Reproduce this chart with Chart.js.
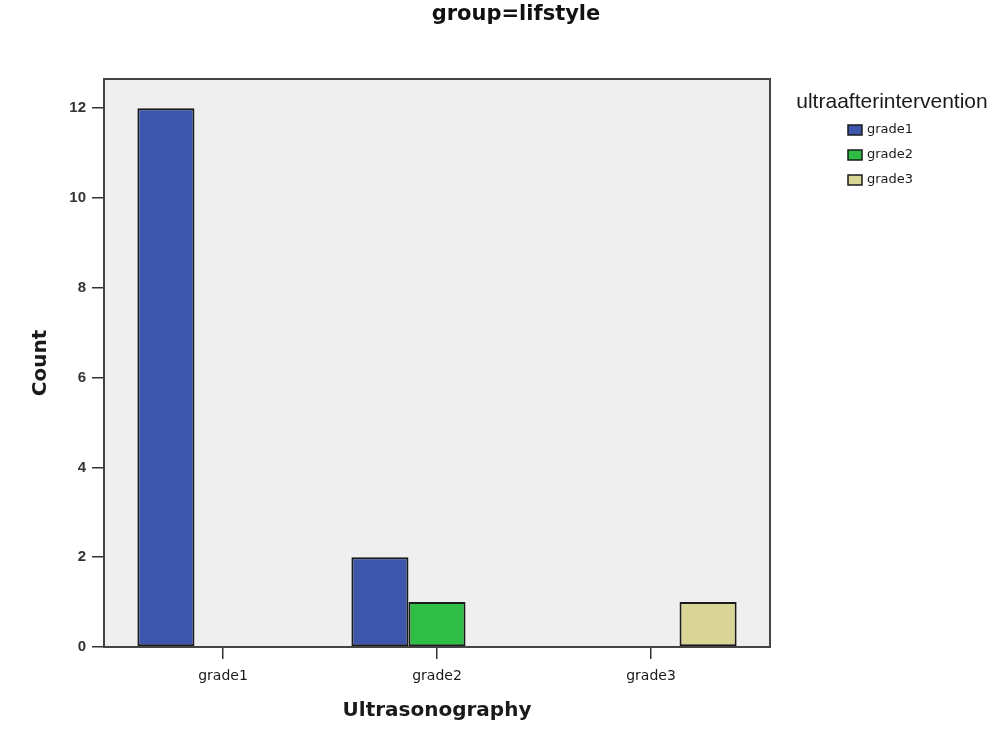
<!DOCTYPE html>
<html>
<head>
<meta charset="utf-8">
<script src="https://cdn.jsdelivr.net/npm/chart.js@4/dist/chart.umd.min.js"></script>
<style>
  html, body { margin: 0; padding: 0; background: #ffffff; }
  #wrap { width: 1000px; height: 747px; position: relative; }
</style>
</head>
<body>
<div id="wrap"><canvas id="c" width="1000" height="747"></canvas></div>
<script>
// ---- data ----
const categories = ['grade1', 'grade2', 'grade3'];
const seriesNames = ['grade1', 'grade2', 'grade3'];
const grade1Counts = [12, 2, null];
const grade2Counts = [null, 1, null];
const grade3Counts = [null, null, 1];
const yTickValues = [0, 2, 4, 6, 8, 10, 12];
const chartTitle = 'group=lifstyle';
const legendTitle = 'ultraafterintervention';
const xAxisTitle = 'Ultrasonography';
const yAxisTitle = 'Count';

const colors = ['#3d56ab', '#2ebd45', '#d9d597'];
const seriesValues = [grade1Counts, grade2Counts, grade3Counts];

const datasets = seriesNames.map((name, s) => ({
  label: name,
  data: seriesValues[s].map((v, i) => ({ x: i, y: v })),
  backgroundColor: colors[s],
  borderColor: '#1a1a1a',
  borderWidth: 2,
  borderSkipped: false,
  categoryPercentage: 0.8,
  barPercentage: 1.0
}));

const framePlugin = {
  id: 'frame',
  beforeDraw(chart) {
    const { ctx, chartArea: a } = chart;
    ctx.save();
    ctx.fillStyle = '#efefef';
    ctx.fillRect(a.left, a.top, a.right - a.left, a.bottom - a.top);
    ctx.restore();
  },
  afterDatasetsDraw(chart) {
    const { ctx, chartArea: a } = chart;
    ctx.save();
    ctx.strokeStyle = '#444444';
    ctx.lineWidth = 2;
    ctx.strokeRect(a.left, a.top, a.right - a.left, a.bottom - a.top);
    ctx.restore();
  },
  afterDraw(chart) {
    const { ctx } = chart;
    ctx.save();
    // main title
    ctx.fillStyle = '#111111';
    ctx.font = 'bold 21px "DejaVu Sans"';
    ctx.textAlign = 'center';
    ctx.textBaseline = 'alphabetic';
    ctx.fillText(chartTitle, 516, 20);
    // legend
    ctx.font = '21px "Liberation Sans"';
    ctx.textBaseline = 'middle';
    ctx.fillStyle = '#1a1a1a';
    ctx.fillText(legendTitle, 892, 102);
    ctx.textAlign = 'left';
    ctx.font = '13px "DejaVu Sans"';
    chart.data.datasets.forEach((ds, i) => {
      const cy = 130 + i * 25;
      ctx.fillStyle = ds.backgroundColor;
      ctx.fillRect(848, cy - 5, 14, 10);
      ctx.strokeStyle = '#1a1a1a';
      ctx.lineWidth = 1.5;
      ctx.strokeRect(848, cy - 5, 14, 10);
      ctx.fillStyle = '#1a1a1a';
      ctx.fillText(ds.label, 867, cy);
    });
    ctx.restore();
  }
};

new Chart(document.getElementById('c'), {
  type: 'bar',
  data: { datasets },
  plugins: [framePlugin],
  options: {
    responsive: false,
    animation: false,
    layout: { padding: { top: 79, right: 230, left: 0, bottom: 0 } },
    plugins: { legend: { display: false }, title: { display: false }, tooltip: { enabled: false } },
    scales: {
      x: {
        type: 'linear',
        min: -0.556,
        max: 2.556,
        offset: false,
        afterFit(scale) { scale.height = 100; },
        afterBuildTicks(scale) { scale.ticks = categories.map((c, i) => ({ value: i })); },
        ticks: {
          callback: (v) => categories[v],
          font: { family: 'DejaVu Sans', size: 14 },
          color: '#1a1a1a',
          padding: 9,
          maxRotation: 0,
          autoSkip: false
        },
        grid: { offset: false, drawOnChartArea: false, drawTicks: true, tickLength: 12, color: '#333333', lineWidth: 1.5 },
        border: { display: true, color: '#444444', width: 2 },
        title: {
          display: true, text: xAxisTitle,
          font: { family: 'DejaVu Sans', size: 20, weight: 'bold' },
          color: '#1a1a1a',
          padding: { top: 0, bottom: 24 }
        }
      },
      y: {
        min: 0,
        max: 12.65,
        afterFit(scale) { scale.width = 104; },
        afterBuildTicks(scale) { scale.ticks = yTickValues.map(v => ({ value: v })); },
        ticks: {
          font: { family: 'Liberation Sans', size: 15, weight: 'bold' },
          color: '#333333',
          padding: 6
        },
        grid: { offset: false, drawOnChartArea: false, drawTicks: true, tickLength: 12, color: '#333333', lineWidth: 1.5 },
        border: { display: true, color: '#444444', width: 2 },
        title: {
          display: true, text: yAxisTitle,
          font: { family: 'DejaVu Sans', size: 20, weight: 'bold' },
          color: '#1a1a1a',
          padding: { top: 29, bottom: 0 }
        }
      }
    }
  }
});
</script>
</body>
</html>
